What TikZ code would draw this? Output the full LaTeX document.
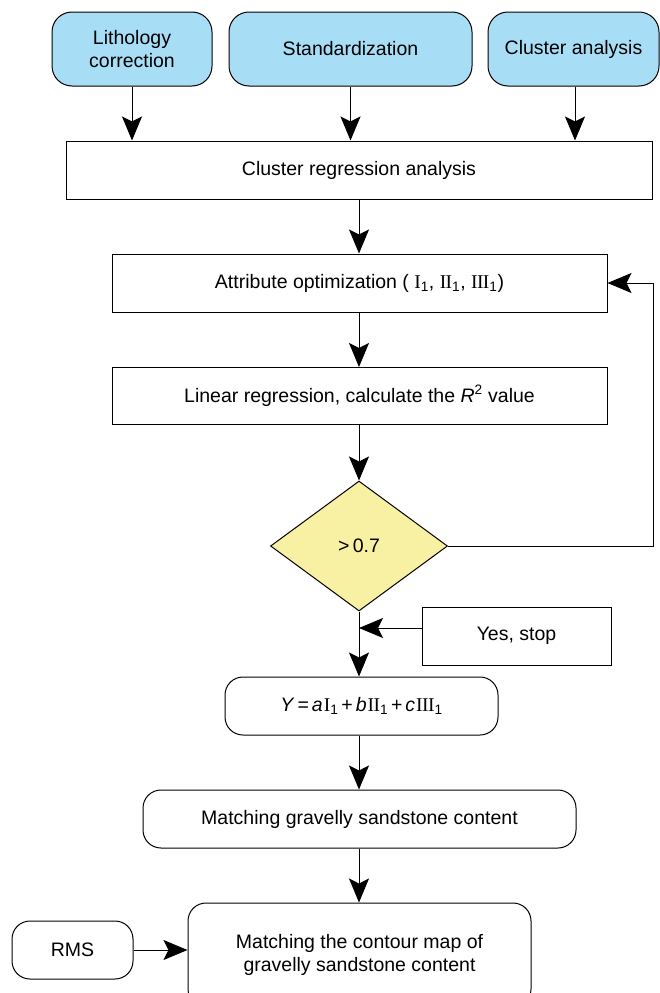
\documentclass[tikz,border=0pt]{standalone}
\usepackage{fontspec}
\setmainfont{Liberation Sans}
\newfontfamily\rnfont{Liberation Serif}
\usetikzlibrary{arrows.meta,shapes.geometric,calc}
\definecolor{boxblue}{RGB}{168,222,245}
\definecolor{diayellow}{RGB}{248,241,163}
\newcommand\rnI{{\rnfont I}}
\newcommand\rnII{{\rnfont I\kern-0.6pt I}}
\newcommand\rnIII{{\rnfont I\kern-0.6pt I\kern-0.6pt I}}
\newcommand\subone{\textsubscript{1}}
\begin{document}
\begin{tikzpicture}[x=1pt,y=-1pt,
  font=\fontsize{19.5}{23}\selectfont,
  box/.style={draw, line width=1pt, rectangle, inner sep=0pt, align=center},
  topbox/.style={box, rounded corners=20pt, fill=boxblue},
  rbox/.style={box, rounded corners=18pt},
  decision/.style={draw, line width=1pt, diamond, inner sep=0pt, fill=diayellow},
  arr/.style={line width=1pt, -{Stealth[length=24pt,width=20pt,inset=5pt]}}
]
\useasboundingbox (0,0) rectangle (660,993);
\clip (0,0) rectangle (660,993);
\fill[white] (0,0) rectangle (660,993);

% top boxes
\node[topbox, minimum width=160pt, minimum height=74pt] (lith) at (132,49) {Lithology\\correction};
\node[topbox, minimum width=243pt, minimum height=74pt] (std) at (350.5,49) {Standardization};
\node[topbox, minimum width=171pt, minimum height=74pt] (clu) at (573.5,49) {Cluster analysis};

\node[box, minimum width=586pt, minimum height=58pt] (crg) at (359,170) {Cluster regression analysis};
\node[box, minimum width=495pt, minimum height=58pt] (att) at (359.5,283)
  {Attribute optimization ( \rnI\subone, \rnII\subone, \rnIII\subone)};
\node[box, minimum width=495pt, minimum height=57pt] (lin) at (359.5,396)
  {Linear regression, calculate the \textit{R}\textsuperscript{2} value};
\node[decision, minimum width=177pt, minimum height=130pt] (dia) at (359,546) {>\,0.7};
\node[box, minimum width=189pt, minimum height=58pt] (yes) at (516.5,636) {Yes, stop};
\node[rbox, minimum width=273pt, minimum height=58pt] (form) at (361.5,706)
  {\textit{Y}\kern3pt=\kern3pt\textit{a}\kern1pt\rnI\subone\kern3pt+\kern3pt\textit{b}\kern1pt\rnII\subone\kern3pt+\kern3pt\textit{c}\kern1pt\rnIII\subone};
\node[rbox, minimum width=433pt, minimum height=58pt] (match) at (359.5,819) {Matching gravelly sandstone content};
\node[rbox, minimum width=343pt, minimum height=104pt] (cont) at (359.5,955) {Matching the contour map of\\gravelly sandstone content};
\node[rbox, minimum width=121pt, minimum height=58pt] (rms) at (72.5,950) {RMS};

\coordinate (fb) at (653,546);

% connectors
\draw[arr] (lith.south) -- (lith.south |- crg.north);
\draw[arr] (std.south) -- (std.south |- crg.north);
\draw[arr] ([xshift=1.5pt]clu.south) -- ([xshift=1.5pt]clu.south |- crg.north);
\draw[arr] (crg.south) -- (att.north -| crg.south);
\draw[arr] (att.south -| dia.north) -- (lin.north -| dia.north);
\draw[arr] (lin.south -| dia.north) -- (dia.north);
\draw[arr] (dia.east) -- (fb) |- (att.east);
\draw[arr] ([yshift=8pt]yes.west) -- ([yshift=8pt]yes.west -| dia.south);
\draw[arr] (dia.south) -- (dia.south |- form.north);
\draw[arr] (form.south -| dia.south) -- (dia.south |- match.north);
\draw[arr] (match.south -| dia.south) -- (dia.south |- cont.north);
\draw[arr] (rms.east) -- (rms.east -| cont.west);
\end{tikzpicture}
\end{document}
